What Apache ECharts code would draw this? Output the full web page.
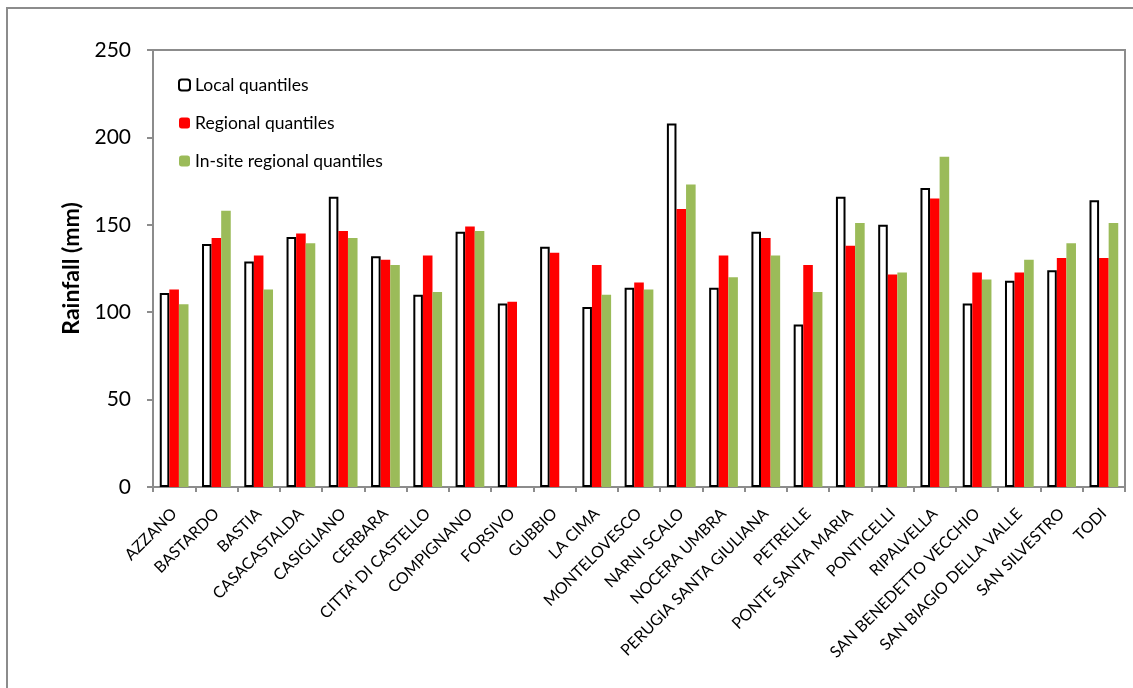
<!DOCTYPE html>
<html><head><meta charset="utf-8">
<script src="https://cdn.jsdelivr.net/npm/echarts@6/dist/echarts.min.js"></script>
<style>html,body{margin:0;padding:0;background:#fff}#c{width:1133px;height:688px}</style>
</head><body><div id="c"></div>
<script>
var stations = ["AZZANO","BASTARDO","BASTIA","CASACASTALDA","CASIGLIANO","CERBARA","CITTA' DI CASTELLO","COMPIGNANO","FORSIVO","GUBBIO","LA CIMA","MONTELOVESCO","NARNI SCALO","NOCERA UMBRA","PERUGIA SANTA GIULIANA","PETRELLE","PONTE SANTA MARIA","PONTICELLI","RIPALVELLA","SAN BENEDETTO VECCHIO","SAN BIAGIO DELLA VALLE","SAN SILVESTRO","TODI"];
var localQ    = [111,139,129,143,166,132,110,146,105,137.5,103,114,208,114,146,93,166,150,171,105,118,124,164];
var regionalQ = [113,142.5,132.5,145,146.5,130,132.5,149,106,134,127,117,159,132.5,142.5,127,138,121.5,165,122.7,122.7,131,131];
var insiteQ   = [104.5,158,113,139.5,142.5,127,111.5,146.5,null,null,110,113,173,120,132.5,111.5,151,122.7,189,118.7,130,139.5,151];
var yTicks = {min:0, max:250, interval:50};
var seriesNames = ["Local quantiles","Regional quantiles","In-site regional quantiles"];

var chart = echarts.init(document.getElementById('c'));
var font = 'Lato, "Open Sans", sans-serif';
chart.setOption({
  animation:false,
  backgroundColor:'#fff',
  graphic:[{type:'rect',shape:{x:7,y:8,width:1150,height:700},style:{fill:'none',stroke:'#8c8c8c',lineWidth:2},silent:true}],
  grid:{left:153,top:50,right:8,bottom:201,show:true,borderColor:'#8c8c8c',borderWidth:2,backgroundColor:'transparent'},
  legend:{
    orient:'vertical',left:173,top:70,itemWidth:11,itemHeight:11,itemGap:18,
    textStyle:{fontFamily:font,fontSize:17.5,color:'#000',lineHeight:20},
    data:seriesNames
  },
  xAxis:{
    type:'category',data:stations,
    axisLine:{lineStyle:{color:'#8c8c8c',width:2}},
    axisTick:{show:true,length:5,lineStyle:{color:'#8c8c8c',width:2}},
    axisLabel:{rotate:45,interval:0,fontFamily:font,fontSize:16,color:'#000',margin:24}
  },
  yAxis:{
    type:'value',min:yTicks.min,max:yTicks.max,interval:yTicks.interval,
    name:'Rainfall (mm)',nameLocation:'middle',nameGap:70,nameRotate:90,
    nameTextStyle:{fontFamily:font,fontSize:23,fontWeight:'bold',color:'#000'},
    axisLine:{show:true,lineStyle:{color:'#8c8c8c',width:2}},
    axisTick:{show:true,length:6,lineStyle:{color:'#8c8c8c',width:2}},
    splitLine:{show:false},
    axisLabel:{fontFamily:font,fontSize:21,color:'#000',margin:22}
  },
  series:[
    {name:seriesNames[0],type:'bar',data:localQ,barGap:'0%',barCategoryGap:'32%',
     itemStyle:{color:'#ffffff',borderColor:'#000',borderWidth:2}},
    {name:seriesNames[1],type:'bar',data:regionalQ,barGap:'0%',barCategoryGap:'32%',
     itemStyle:{color:'#ff0000'}},
    {name:seriesNames[2],type:'bar',data:insiteQ,barGap:'0%',barCategoryGap:'32%',
     itemStyle:{color:'#9bbb59'}}
  ]
});
</script></body></html>
